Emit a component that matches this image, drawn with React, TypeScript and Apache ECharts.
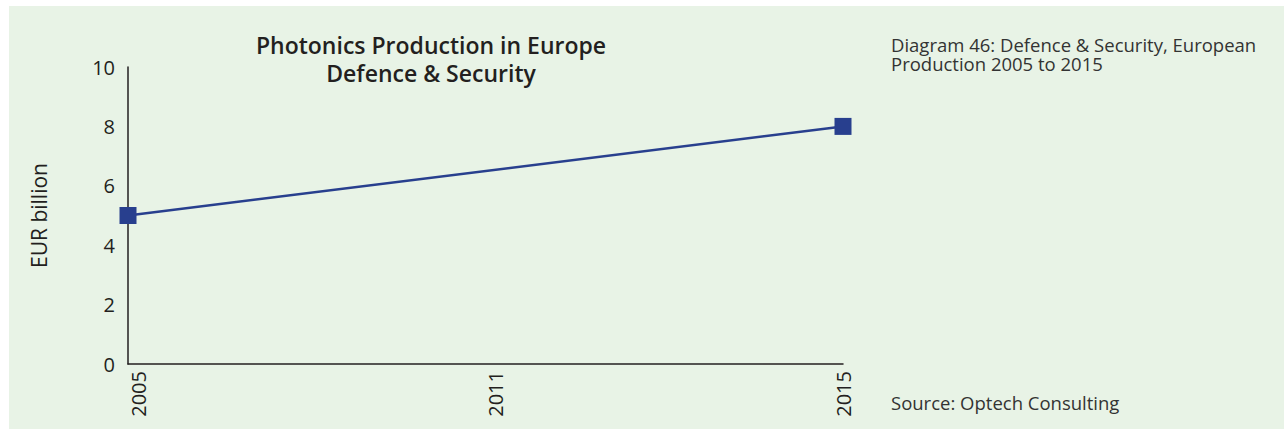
import React, { useEffect, useRef } from "react";
import * as echarts from "echarts";

const years = ["2005", "2011", "2015"];
const production = [5, null, 8];
const yTicks = [0, 2, 4, 6, 8, 10];
const titleLines = ["Photonics Production in Europe", "Defence & Security"];
const captionLines = ["Diagram 46: Defence & Security, European", "Production 2005 to 2015"];
const sourceText = "Source: Optech Consulting";
const yAxisName = "EUR billion";

const FONT = "'Open Sans', sans-serif";
const TEXT = "#231f20";
const BLUE = "#283f8e";

export default function App() {
  const ref = useRef<HTMLDivElement>(null);
  useEffect(() => {
    if (!ref.current) return;
    const chart = echarts.init(ref.current, undefined, { renderer: "svg" });
    const labelAlign = ["top", "top", "middle"];
    const titleTexts = titleLines.map((t, i) => ({
      type: "text",
      x: 431,
      y: 45 + i * 28,
      style: {
        text: t,
        fontSize: 23,
        fontWeight: 600,
        fill: TEXT,
        fontFamily: FONT,
        align: "center",
        verticalAlign: "middle",
      },
    }));
    const captionTexts = captionLines.map((t, i) => ({
      type: "text",
      x: 891,
      y: 44 + i * 19.5,
      style: {
        text: t,
        fontSize: 18.5,
        fill: "#333333",
        fontFamily: FONT,
        align: "left",
        verticalAlign: "middle",
      },
    }));
    chart.setOption({
      animation: false,
      backgroundColor: "transparent",
      textStyle: { fontFamily: FONT },
      grid: { left: 128, right: 441, top: 67, bottom: 65 },
      xAxis: {
        type: "category",
        boundaryGap: false,
        data: years.map((y, i) => ({ value: y, textStyle: { verticalAlign: labelAlign[i] } })),
        axisLine: { lineStyle: { color: TEXT, width: 1.5 } },
        axisTick: { show: false },
        axisLabel: { rotate: 90, margin: 7, fontSize: 20, color: TEXT, fontFamily: FONT },
        splitLine: { show: false },
      },
      yAxis: {
        type: "value",
        min: yTicks[0],
        max: yTicks[yTicks.length - 1],
        interval: yTicks[1] - yTicks[0],
        name: yAxisName,
        nameLocation: "middle",
        nameGap: 79,
        nameTextStyle: { fontSize: 21, color: TEXT, fontFamily: FONT },
        axisLine: { show: true, lineStyle: { color: TEXT, width: 1.5 } },
        axisTick: { show: false },
        axisLabel: { margin: 13, fontSize: 20, color: TEXT, fontFamily: FONT },
        splitLine: { show: false },
      },
      series: [
        {
          type: "line",
          data: production,
          connectNulls: true,
          symbol: "rect",
          symbolSize: 17,
          lineStyle: { color: BLUE, width: 2.5 },
          itemStyle: { color: BLUE },
        },
      ],
      graphic: [
        {
          type: "rect",
          z: -10,
          silent: true,
          shape: { x: 9, y: 6, width: 1275, height: 423 },
          style: { fill: "#e8f3e6" },
        },
        ...titleTexts,
        ...captionTexts,
        {
          type: "text",
          x: 891,
          y: 402,
          style: {
            text: sourceText,
            fontSize: 18.5,
            fill: "#333333",
            fontFamily: FONT,
            align: "left",
            verticalAlign: "middle",
          },
        },
      ],
    });
    return () => chart.dispose();
  }, []);
  return (
    <div style={{ position: "absolute", left: 0, top: 0, width: 1284, height: 429, background: "#ffffff" }}>
      <div ref={ref} style={{ width: 1284, height: 429 }} />
    </div>
  );
}
